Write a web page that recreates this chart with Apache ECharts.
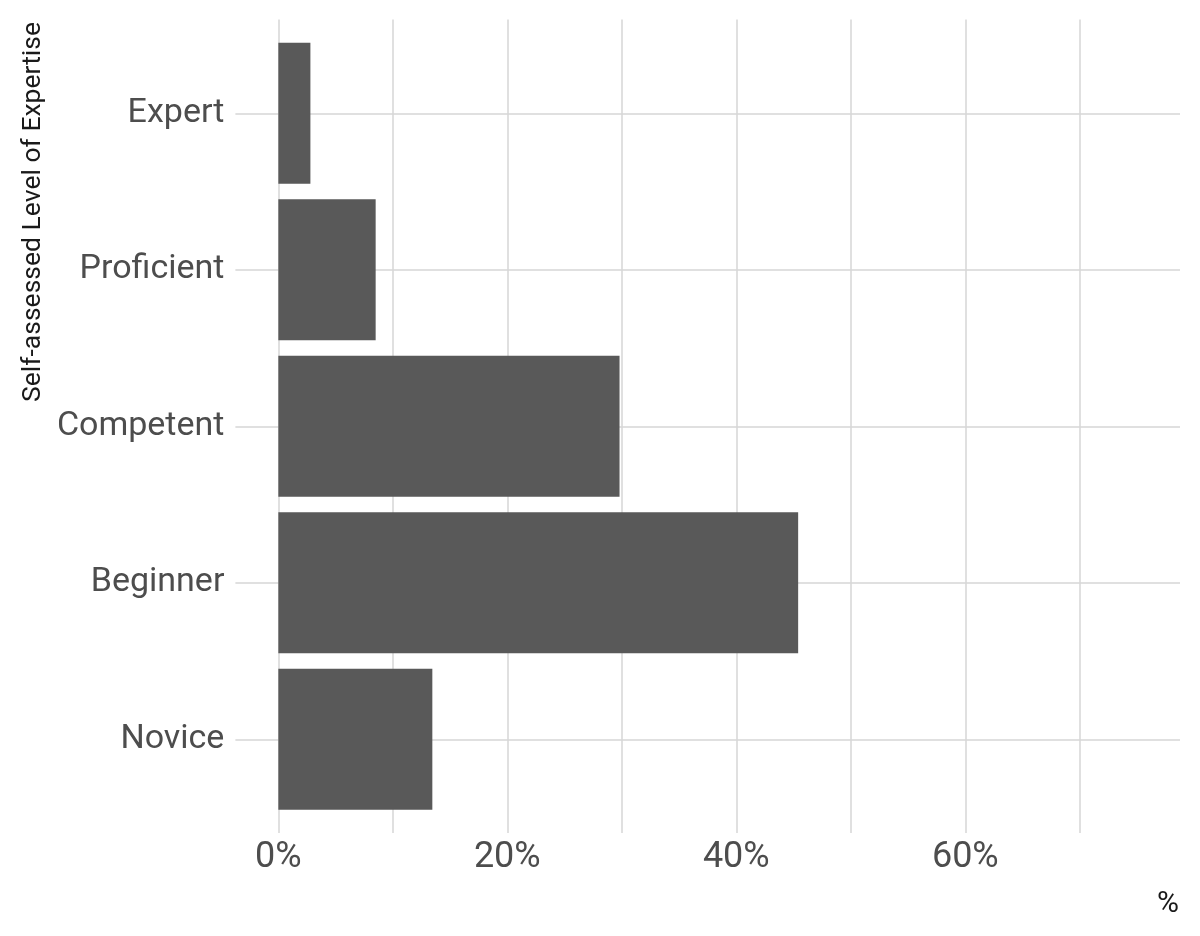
<!DOCTYPE html>
<html>
<head>
<meta charset="utf-8">
<script src="https://cdn.jsdelivr.net/npm/echarts@6/dist/echarts.min.js"></script>
<style>html,body{margin:0;padding:0;background:#fff}#c{width:1200px;height:936px}</style>
</head>
<body>
<div id="c"></div>
<script>
const categories = ['Novice', 'Beginner', 'Competent', 'Proficient', 'Expert'];
const percents = [13.45, 45.4, 29.8, 8.5, 2.8];
const xTicks = [0, 10, 20, 30, 40, 50, 60, 70];
const yTitle = 'Self-assessed Level of Expertise';
const xTitle = '%';

const gridColor = '#d6d6d6';
const font = 'Roboto';
const chart = echarts.init(document.getElementById('c'));
chart.setOption({
  backgroundColor: '#ffffff',
  animation: false,
  grid: [
    { left: 235.4, right: 20, top: 35.05, bottom: 118.5 },
    { left: 278.3, right: 20, top: 19.5, bottom: 103 }
  ],
  xAxis: [
    { type: 'value', gridIndex: 0, min: -3.75, max: 78.75, show: false },
    { type: 'value', gridIndex: 1, min: 0, max: 78.75, interval: 10,
      axisLine: { show: false }, axisTick: { show: false },
      splitLine: { show: true, showMaxLine: false, lineStyle: { color: gridColor, width: 1.5 } },
      axisLabel: { show: true, margin: 7, fontFamily: font, fontSize: 36, color: '#4d4d4d',
        showMaxLabel: false,
        formatter: v => (xTicks.includes(v) && v % 20 === 0) ? v + '%' : '' }
    }
  ],
  yAxis: [
    { type: 'category', gridIndex: 0, data: categories, boundaryGap: true,
      axisLine: { show: false, onZero: false },
      axisTick: { show: true, inside: true, alignWithLabel: true, length: 944.6,
        lineStyle: { color: gridColor, width: 1.5 } },
      splitLine: { show: false },
      axisLabel: { margin: 11, fontFamily: font, fontSize: 34, color: '#4d4d4d' }
    },
    { type: 'value', gridIndex: 1, show: false, min: 0, max: 1 }
  ],
  series: [
    { type: 'bar', xAxisIndex: 0, yAxisIndex: 0, data: percents, barWidth: '90%',
      itemStyle: { color: '#595959' }, z: 3 }
  ],
  graphic: [
    { type: 'text', x: 33, y: 22, rotation: Math.PI / 2,
      style: { text: yTitle, fontFamily: font, fontSize: 26.5, fill: '#1a1a1a', align: 'right', verticalAlign: 'middle' } },
    { type: 'text', x: 1179, y: 904,
      style: { text: xTitle, fontFamily: font, fontSize: 30, fill: '#1a1a1a', align: 'right', verticalAlign: 'middle' } }
  ]
});
</script>
</body>
</html>
